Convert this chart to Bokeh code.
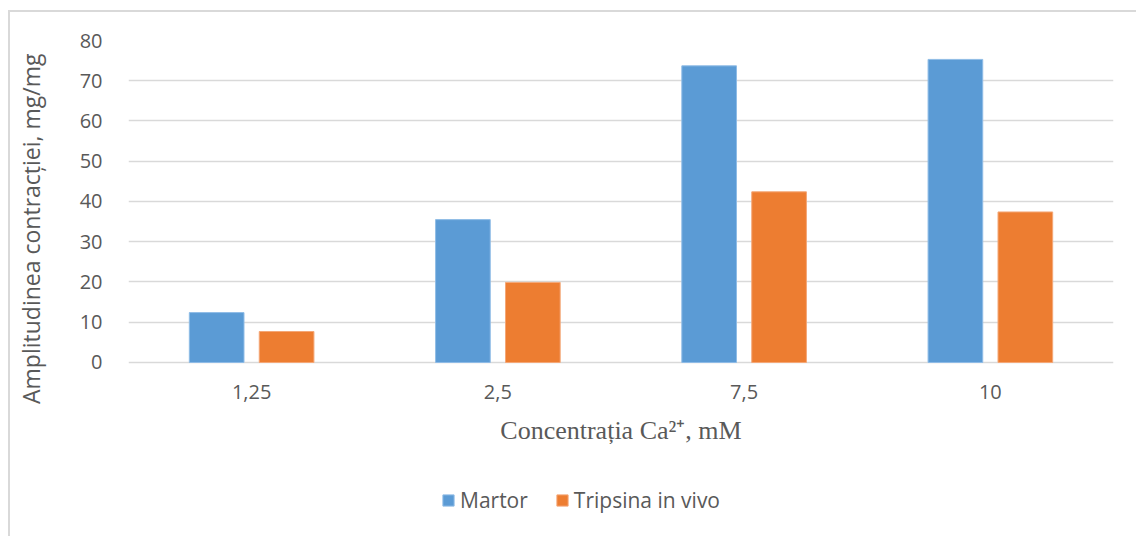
from bokeh.plotting import figure
from bokeh.models import (ColumnDataSource, FactorRange, Range1d, Legend, LegendItem,
                          FixedTicker, InlineStyleSheet, CategoricalAxis)
from bokeh.transform import dodge
from bokeh.embed import file_html
from bokeh.resources import INLINE

# Calcium concentration (mM) and contraction amplitude (mg/mg)
categories = ["1,25", "2,5", "7,5", "10"]
martor = [12.4, 35.5, 73.7, 75.3]
tripsina = [7.7, 19.9, 42.4, 37.4]
series_names = ["Martor", "Tripsina in vivo"]
y_ticks = [0, 10, 20, 30, 40, 50, 60, 70, 80]

BLUE = "#5B9BD5"
ORANGE = "#ED7D31"
TEXT = "#595959"
GRID = "#D9D9D9"

source = ColumnDataSource(dict(cat=categories, martor=martor, tripsina=tripsina))

# the frame runs to the bottom edge so the legend below the axis stays inside it;
# the category axis is pinned at y = 0
p = figure(width=1136, height=536, x_range=FactorRange(factors=categories, range_padding=0),
           y_range=Range1d(-43.23, 80), output_backend="svg", toolbar_location=None,
           x_axis_location=None,
           min_border_left=128, min_border_right=23, min_border_top=40, min_border_bottom=0,
           background_fill_color="white", border_fill_color="white", outline_line_color=None)

# light frame around the whole chart area
p.stylesheets = [InlineStyleSheet(css=f"""
:host {{ position: relative; }}
:host::after {{
  content: ""; position: absolute; left: 8px; top: 10px; width: 1200px; height: 600px;
  border-left: 2px solid {GRID}; border-top: 2px solid {GRID};
  pointer-events: none; z-index: 10;
}}
""")]

r1 = p.vbar(x=dodge("cat", -0.142, range=p.x_range), top="martor", width=0.222, source=source,
            fill_color=BLUE, line_color="#8FBCE6", line_width=1)
r2 = p.vbar(x=dodge("cat", 0.142, range=p.x_range), top="tripsina", width=0.222, source=source,
            fill_color=ORANGE, line_color="#F4A777", line_width=1)

xaxis = CategoricalAxis(fixed_location=0)
p.add_layout(xaxis, "below")

# grid
p.xgrid.grid_line_color = None
p.ygrid.grid_line_color = GRID
p.ygrid.grid_line_width = 1.5
p.yaxis.ticker = FixedTicker(ticks=y_ticks)

for ax in (xaxis, p.yaxis[0]):
    ax.axis_line_color = None
    ax.major_tick_line_color = None
    ax.minor_tick_line_color = None
    ax.major_label_text_font = "Open Sans"
    ax.major_label_text_font_size = "20px"
    ax.major_label_text_color = TEXT
    ax.axis_label_text_color = TEXT
    ax.axis_label_text_font_style = "normal"

p.yaxis.major_label_standoff = 20
xaxis.major_label_standoff = 17

# axis titles
p.yaxis.axis_label = "\u00a0" * 20 + "Amplitudinea contracției, mg/mg"
p.yaxis.axis_label_text_font = "Open Sans"
p.yaxis.axis_label_text_font_size = "23px"
p.yaxis.axis_label_standoff = 30

xaxis.axis_label = "Concentrația Ca²⁺, mM"
xaxis.axis_label_text_font = "Liberation Serif"
xaxis.axis_label_text_font_size = "26px"
xaxis.axis_label_standoff = 13

legend = Legend(items=[LegendItem(label=series_names[0], renderers=[r1]),
                       LegendItem(label=series_names[1], renderers=[r2])],
                orientation="horizontal", location=(313, 22),
                glyph_width=14, glyph_height=14, label_standoff=5, spacing=27,
                padding=0, margin=0, border_line_color=None, background_fill_alpha=0,
                label_text_font="Open Sans", label_text_font_size="21px",
                label_text_color=TEXT)
p.add_layout(legend, "center")

open("out.html", "w").write(file_html(p, INLINE))
